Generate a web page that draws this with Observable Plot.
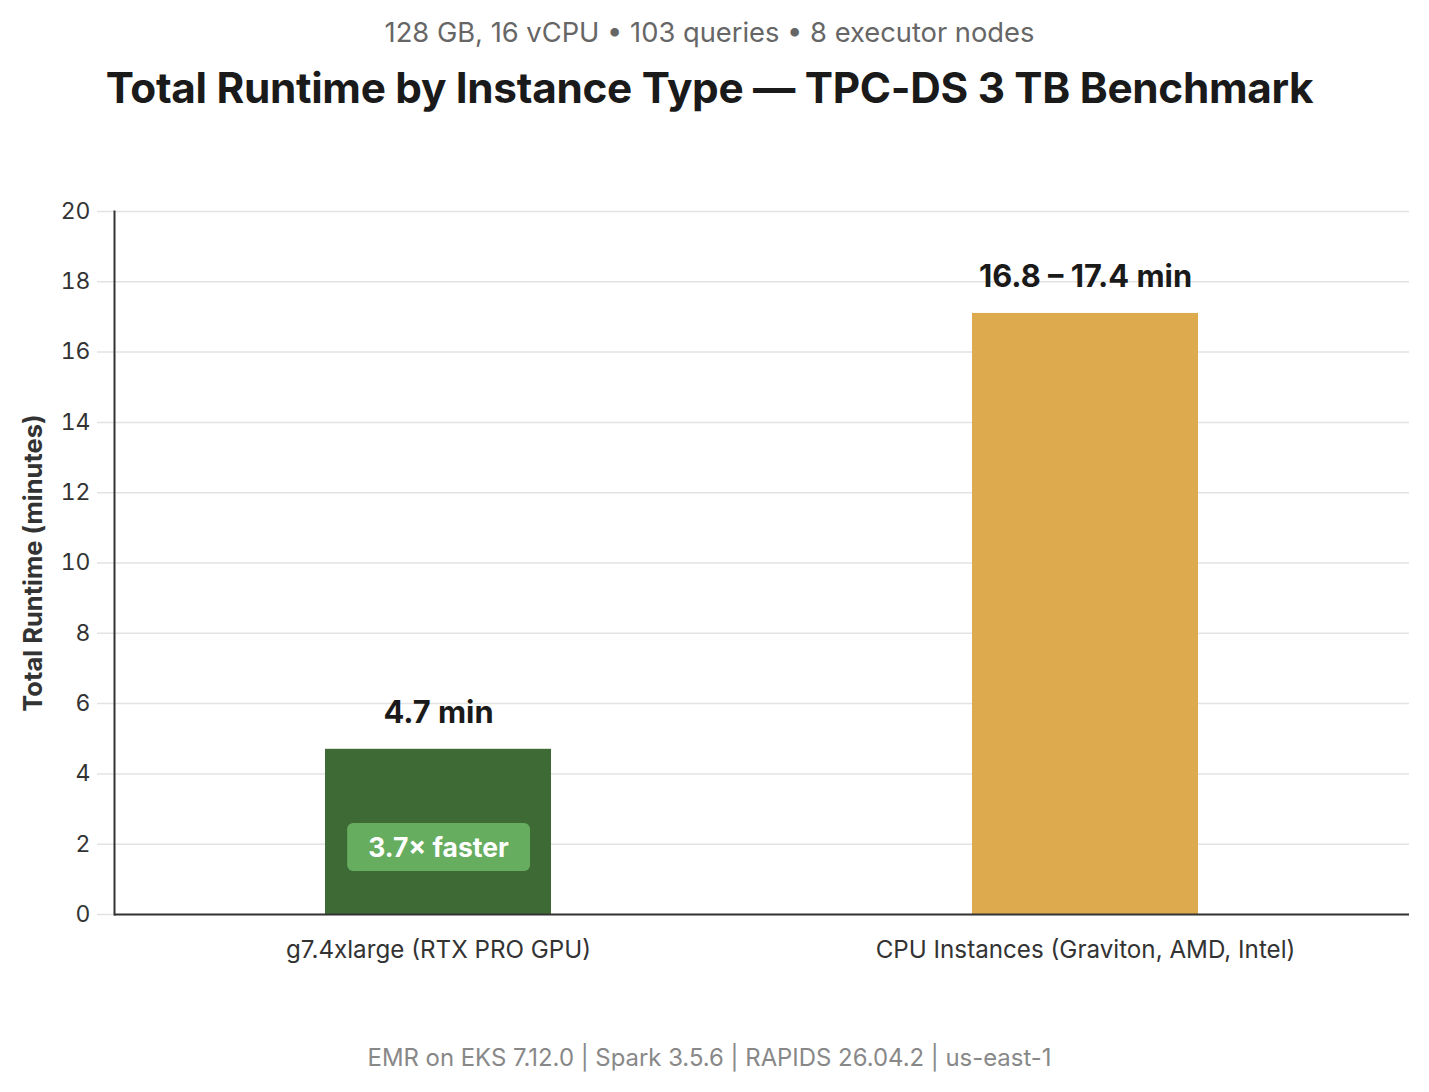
<!DOCTYPE html>
<html>
<head>
<meta charset="utf-8">
<script src="https://cdn.jsdelivr.net/npm/d3@7"></script>
<script src="https://cdn.jsdelivr.net/npm/@observablehq/plot@0.6"></script>
<style>
  html, body { margin: 0; padding: 0; background: #fff; }
  body { width: 1429px; height: 1092px; position: relative; font-family: Inter, "Noto Sans", sans-serif; overflow: hidden; }
  #subtitle { position: absolute; top: 14px; left: 0; width: 1419px; text-align: center; font-size: 27.3px; color: #666; line-height: 38px; }
  #title { position: absolute; top: 63px; left: 0; width: 1419px; text-align: center; font-size: 42.3px; font-weight: 700; color: #1a1a1a; line-height: 50px; letter-spacing: -0.3px; }
  #chart { position: absolute; top: 130px; left: 0; }
  #footer { position: absolute; top: 1042px; left: 0; width: 1419px; text-align: center; font-size: 23.9px; color: #888; line-height: 32px; }
</style>
</head>
<body>
<div id="subtitle"></div>
<div id="title"></div>
<div id="chart"></div>
<div id="footer"></div>
<script>
const subtitleText = "128 GB, 16 vCPU \u2022 103 queries \u2022 8 executor nodes";
const titleText = "Total Runtime by Instance Type \u2014 TPC-DS 3 TB Benchmark";
const footerText = "EMR on EKS 7.12.0 | Spark 3.5.6 | RAPIDS 26.04.2 | us-east-1";
const yLabel = "Total Runtime (minutes)";

const categories = ["g7.4xlarge (RTX PRO GPU)", "CPU Instances (Graviton, AMD, Intel)"];
const runtimes = [4.7, 17.1];
const valueLabels = ["4.7 min", "16.8 \u2013 17.4 min"];
const colors = ["#3e6b35", "#ddaa4e"];
const badgeCategory = ["g7.4xlarge (RTX PRO GPU)"];
const badgeText = ["3.7\u00d7 faster"];
const yTicks = [0, 2, 4, 6, 8, 10, 12, 14, 16, 18, 20];

document.getElementById("subtitle").textContent = subtitleText;
document.getElementById("title").textContent = titleText;
document.getElementById("footer").textContent = footerText;

const data = categories.map((c, i) => ({category: c, value: runtimes[i], label: valueLabels[i], color: colors[i]}));
const badge = badgeCategory.map((c, i) => ({category: c, text: badgeText[i], value: runtimes[categories.indexOf(c)] * 0.4}));

const plot = Plot.plot({
  width: 1429,
  height: 880,
  marginLeft: 114,
  marginRight: 20,
  marginTop: 81,
  marginBottom: 96,
  style: {fontFamily: "Inter, 'Noto Sans', sans-serif", background: "transparent"},
  x: {domain: categories, paddingInner: 0.65, paddingOuter: 0.325, label: null},
  y: {domain: [0, 20], label: null},
  marks: [
    Plot.gridY(yTicks, {stroke: "#e3e3e3", strokeOpacity: 1, strokeWidth: 1.5, insetLeft: -17}),
    Plot.barY(data, {x: "category", y: "value", fill: "color"}),
    Plot.text(data, {x: "category", y: "value", text: "label", dy: -36, lineAnchor: "middle", fontSize: 30.8, fontWeight: 700, fill: "#1a1a1a"}),
    Plot.text(badge, {x: "category", y: "value", text: "text", lineAnchor: "middle", fontSize: 26.5, fontWeight: 700, fill: "#fff", className: "badge-text"}),
    Plot.axisY({ticks: yTicks, tickSize: 0, tickPadding: 24, fontSize: 23, fill: "#333", label: null}),
    Plot.axisX({tickSize: 0, tickPadding: 26, fontSize: 24.2, fill: "#333", label: null}),
    Plot.text([yLabel], {frameAnchor: "left", textAnchor: "middle", rotate: -90, dx: -81, fontSize: 25.5, fontWeight: 700, fill: "#333"}),
    Plot.ruleY([0], {stroke: "#333", strokeWidth: 2}),
    Plot.frame({anchor: "left", stroke: "#333", strokeWidth: 2})
  ]
});
document.getElementById("chart").appendChild(plot);

// rounded badge behind the badge text
d3.select(plot).selectAll("g.badge-text text").each(function() {
  const b = this.getBBox();
  const padX = 21, padY = 9;
  d3.select(this.parentNode).insert("rect", () => this)
    .attr("transform", this.getAttribute("transform"))
    .attr("x", b.x - padX).attr("y", b.y - padY + 1)
    .attr("width", b.width + 2 * padX).attr("height", b.height + 2 * padY - 2)
    .attr("rx", 6).attr("fill", "#67ad5f");
});
</script>
</body>
</html>
